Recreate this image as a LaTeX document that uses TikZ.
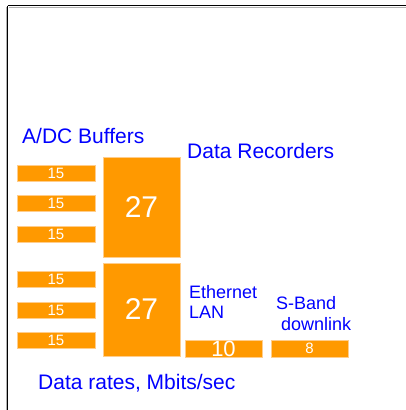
\documentclass[tikz,border=0pt]{standalone}
\usepackage{fontspec}
\setmainfont{Liberation Sans}
\definecolor{barorange}{RGB}{255,153,0}
\definecolor{baredge}{RGB}{255,205,140}
\definecolor{labelblue}{RGB}{0,0,255}
\tikzset{
  bar/.style={fill=barorange, draw=baredge, line width=0.8pt, inner sep=0pt, text=white},
  small/.style={bar, minimum width=78pt, minimum height=16pt, font=\fontsize{15}{17}\selectfont},
  big/.style={bar, minimum width=77pt},
  lbl/.style={text=labelblue, inner sep=0pt, anchor=base west},
  lblL/.style={lbl, font=\fontsize{21}{25}\selectfont},
  lblS/.style={lbl, font=\fontsize{18}{21}\selectfont},
}
\begin{document}
\begin{tikzpicture}[x=1pt,y=-1pt]
\useasboundingbox (0,0) rectangle (406,410);
% frame (only top and left edges visible)
\draw[gray!60, line width=1pt] (9,7) -- (406,7);
\draw[gray!60, line width=1pt] (6,7) -- (6,410);
\draw[black, line width=1.4pt] (7.5,5.5) -- (406,5.5);
\draw[black, line width=1.4pt] (7.5,5.5) -- (7.5,410);
% labels
\node[lblL] (adc) at (22,143) {A/DC Buffers};
\node[lblL] (rec) at (187,158) {Data Recorders};
\node[lblS] (eth1) at (189,298) {Ethernet};
\node[lblS] (eth2) at (189,318) {LAN};
\node[lblS] (sb1) at (276,309) {S-Band};
\node[lblS] (sb2) at (281,330) {downlink};
\node[lblL] (rates) at (38,389) {Data rates, Mbits/sec};
% small buffer bars
\node[small] (u1) at (56,173) {15};
\node[small] (u2) at (56,203) {15};
\node[small] (u3) at (56,234) {15};
\node[small] (l1) at (56,279.5) {15};
\node[small] (l2) at (56,310) {15};
\node[small] (l3) at (56,340.5) {15};
% recorders
\node[big, minimum height=100pt, font=\fontsize{30}{34}\selectfont] (r1) at (141.5,207) {\raisebox{-3pt}{27}};
\node[big, minimum height=93pt, font=\fontsize{30}{34}\selectfont] (r2) at (141.5,309.5) {27};
% ethernet & s-band
\node[bar, minimum width=77pt, minimum height=17pt, font=\fontsize{22}{24}\selectfont] (e) at (223.5,348.5) {10};
\node[bar, minimum width=77pt, minimum height=17pt, font=\fontsize{15}{17}\selectfont] (s) at (309.5,348.5) {8};
\end{tikzpicture}
\end{document}
